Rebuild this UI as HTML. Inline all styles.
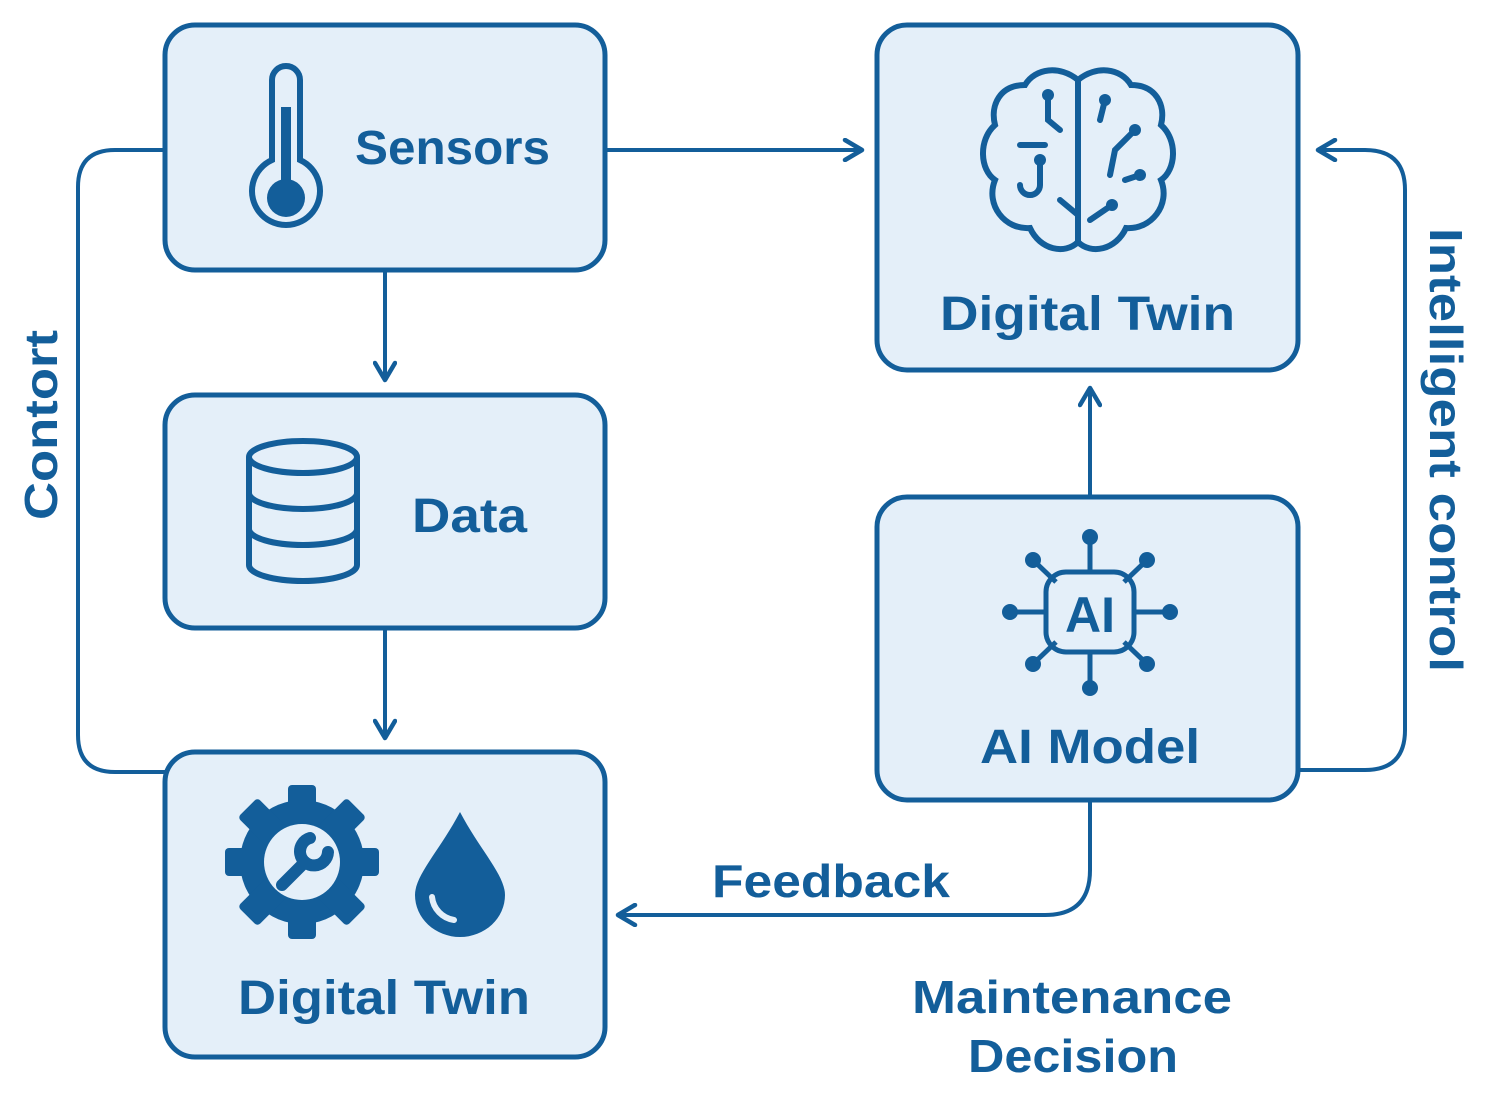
<!DOCTYPE html>
<html><head><style>html,body{margin:0;padding:0;background:#fff}svg{display:block}</style></head><body>
<svg width="1490" height="1094" viewBox="0 0 1490 1094" xmlns="http://www.w3.org/2000/svg" font-family="Liberation Sans, sans-serif" font-weight="bold">
<defs><marker id="a" viewBox="0 0 24 24" refX="20" refY="12" markerWidth="24" markerHeight="24" markerUnits="userSpaceOnUse" orient="auto"><path d="M3 2 L20 12 L3 22" fill="none" stroke="#135e9a" stroke-width="4.5" stroke-linecap="round" stroke-linejoin="round"/></marker></defs>
<g fill="#e4eff9" stroke="#135e9a" stroke-width="5">
<rect x="165" y="25" width="440" height="245" rx="30"/>
<rect x="165" y="395" width="440" height="233" rx="30"/>
<rect x="165" y="752" width="440" height="305" rx="30"/>
<rect x="877" y="25" width="421" height="345" rx="30"/>
<rect x="877" y="497" width="421" height="303" rx="30"/>
</g>
<g fill="none" stroke="#135e9a" stroke-width="4">
<path d="M605 150 H862" marker-end="url(#a)"/>
<path d="M385 270 V380" marker-end="url(#a)"/>
<path d="M385 628 V738" marker-end="url(#a)"/>
<path d="M165 150 H115 Q78 150 78 187 V735 Q78 772 115 772 H165"/>
<path d="M1090 497 V388" marker-end="url(#a)"/>
<path d="M1298 770 H1365 Q1405 770 1405 730 V190 Q1405 150 1365 150 H1318" marker-end="url(#a)"/>
<path d="M1090 800 V870 Q1090 915 1045 915 H618" marker-end="url(#a)"/>
</g>
<!-- thermometer -->
<g stroke="#135e9a" fill="none" stroke-width="6">
<path d="M272 160 V80 a14 14 0 0 1 28 0 V160 a34 34 0 1 1 -28 0 Z"/>
</g>
<rect x="281" y="107" width="10" height="80" fill="#135e9a"/>
<circle cx="286" cy="198" r="19" fill="#135e9a"/>
<text x="355" y="164" font-size="48" fill="#135e9a" textLength="195" lengthAdjust="spacingAndGlyphs">Sensors</text>
<!-- database -->
<g stroke="#135e9a" fill="none" stroke-width="6">
<ellipse cx="303" cy="457" rx="54" ry="16"/>
<path d="M249 457 V565 a54 16 0 0 0 108 0 V457"/>
<path d="M249 493 a54 16 0 0 0 108 0 M249 529 a54 16 0 0 0 108 0"/>
</g>
<text x="412" y="532" font-size="48" fill="#135e9a" textLength="115" lengthAdjust="spacingAndGlyphs">Data</text>
<!-- gear -->
<g fill="#135e9a">
<circle cx="302" cy="862" r="62"/>
<rect x="288" y="785" width="28" height="154" rx="4"/>
<rect x="288" y="785" width="28" height="154" rx="4" transform="rotate(45 302 862)"/>
<rect x="288" y="785" width="28" height="154" rx="4" transform="rotate(90 302 862)"/>
<rect x="288" y="785" width="28" height="154" rx="4" transform="rotate(135 302 862)"/>
</g>
<circle cx="302" cy="862" r="38" fill="#e4eff9"/>
<path d="M282 885 L305 862 M310 838 a14 14 0 1 0 18 14" stroke="#135e9a" stroke-width="12" fill="none" stroke-linecap="round"/>
<path d="M460 812 C440 850 415 875 415 895 a45 42 0 0 0 90 0 C505 875 480 850 460 812Z" fill="#135e9a"/>
<path d="M432 897 a26 26 0 0 0 22 23" stroke="#e4eff9" stroke-width="6" fill="none" stroke-linecap="round"/>
<text x="238" y="1014" font-size="48" fill="#135e9a" textLength="292" lengthAdjust="spacingAndGlyphs">Digital Twin</text>
<!-- brain -->
<g stroke="#135e9a" fill="none" stroke-width="6" stroke-linecap="round">
<path d="M1078 80 C1060 65 1035 68 1025 85 C1000 85 990 105 995 125 C978 140 980 170 995 180 C985 205 1005 230 1030 228 C1040 250 1065 255 1078 242 Z"/>
<path d="M1078 80 C1096 65 1121 68 1131 85 C1156 85 1166 105 1161 125 C1178 140 1176 170 1161 180 C1171 205 1151 230 1126 228 C1116 250 1091 255 1078 242 Z"/>
<path d="M1048 95 V120 L1060 130 M1020 145 H1045 M1040 160 V185 a10 10 0 0 1 -20 0 M1060 200 L1078 215"/>
<path d="M1105 100 L1100 120 M1135 130 L1115 150 L1110 175 M1140 175 L1125 180 M1112 205 L1090 220"/>
</g>
<g fill="#135e9a"><circle cx="1048" cy="95" r="6"/><circle cx="1040" cy="160" r="6"/><circle cx="1135" cy="130" r="6"/><circle cx="1140" cy="175" r="6"/><circle cx="1112" cy="205" r="6"/><circle cx="1105" cy="100" r="6"/></g>
<text x="940" y="330" font-size="48" fill="#135e9a" textLength="295" lengthAdjust="spacingAndGlyphs">Digital Twin</text>
<!-- AI chip -->
<g stroke="#135e9a" stroke-width="5" fill="none">
<rect x="1046" y="572" width="88" height="80" rx="20"/>
<path d="M1090 572 V540 M1090 652 V686 M1046 612 H1012 M1134 612 H1168 M1056 582 L1033 560 M1124 582 L1147 560 M1056 642 L1033 664 M1124 642 L1147 664"/>
</g>
<g fill="#135e9a"><circle cx="1090" cy="537" r="8"/><circle cx="1090" cy="688" r="8"/><circle cx="1010" cy="612" r="8"/><circle cx="1170" cy="612" r="8"/><circle cx="1033" cy="560" r="8"/><circle cx="1147" cy="560" r="8"/><circle cx="1033" cy="664" r="8"/><circle cx="1147" cy="664" r="8"/></g>
<text x="1090" y="632" font-size="50" fill="#135e9a" text-anchor="middle">AI</text>
<text x="980" y="763" font-size="48" fill="#135e9a" textLength="220" lengthAdjust="spacingAndGlyphs">AI Model</text>
<text x="712" y="897" font-size="46" fill="#135e9a" textLength="238" lengthAdjust="spacingAndGlyphs">Feedback</text>
<text x="912" y="1013" font-size="46" fill="#135e9a" textLength="320" lengthAdjust="spacingAndGlyphs">Maintenance</text>
<text x="968" y="1072" font-size="46" fill="#135e9a" textLength="210" lengthAdjust="spacingAndGlyphs">Decision</text>
<text transform="translate(57 520) rotate(-90)" font-size="46" fill="#135e9a" textLength="190" lengthAdjust="spacingAndGlyphs">Contort</text>
<text transform="translate(1430 228) rotate(90)" font-size="46" fill="#135e9a" textLength="444" lengthAdjust="spacingAndGlyphs">Intelligent control</text>
</svg>
</body></html>
